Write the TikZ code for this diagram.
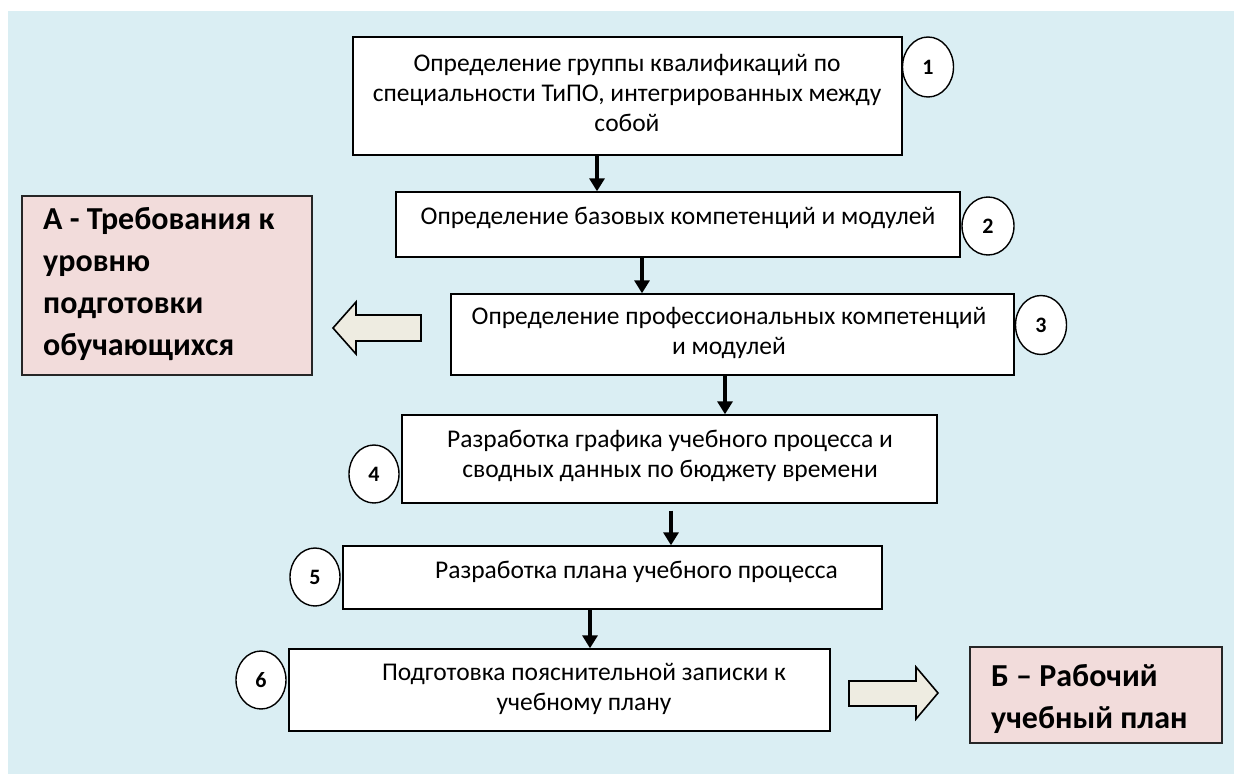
\documentclass[tikz,border=0pt]{standalone}
\usepackage{fontspec}
\setmainfont{Carlito}
\usetikzlibrary{shapes.geometric,arrows.meta,calc}
\definecolor{bgblue}{HTML}{DAEEF3}
\definecolor{pinkbox}{HTML}{F2DCDB}
\definecolor{tanfill}{HTML}{EEECE1}
\begin{document}
\begin{tikzpicture}[x=1pt,y=-1pt,
  stepbox/.style={draw=black,line width=1.4pt,fill=white,inner sep=0pt},
  resbox/.style={draw=black!85,line width=1.4pt,fill=pinkbox,inner sep=0pt},
  num/.style={ellipse,draw=black,line width=1.4pt,fill=white,inner sep=0pt,font=\fontsize{22}{22}\selectfont\bfseries},
  txt/.style={align=center,font=\fontsize{25.5}{30}\selectfont,inner sep=0pt},
  big/.style={align=left,font=\fontsize{32}{41.7}\selectfont\bfseries,inner sep=0pt},
  conn/.style={line width=4pt,-{Triangle[width=15pt,length=13pt]}},
  blockarrow/.style={draw=black,line width=1.6pt,fill=tanfill,line join=miter}]
\useasboundingbox (0,0) rectangle (1234,774);
\fill[bgblue] (8,11) rectangle (1234,774);

% step boxes
\node[stepbox,minimum width=549pt,minimum height=118pt] (b1) at (627.5,96) {};
\node[stepbox,minimum width=564pt,minimum height=65pt] (b2) at (678,224.5) {};
\node[stepbox,minimum width=563pt,minimum height=81pt] (b3) at (732.5,334.5) {};
\node[stepbox,minimum width=535pt,minimum height=88pt] (b4) at (669.5,459) {};
\node[stepbox,minimum width=539pt,minimum height=63pt] (b5) at (612.5,577.5) {};
\node[stepbox,minimum width=541pt,minimum height=82pt] (b6) at (559.5,690) {};

% result boxes
\node[resbox,minimum width=290pt,minimum height=179pt] (bA) at (167,285.5) {};
\node[resbox,minimum width=252pt,minimum height=96pt] (bB) at (1096,695) {};

% texts
\node[txt] (t1) at (627,93) {Определение группы квалификаций по\\специальности ТиПО, интегрированных между\\собой};
\node[txt] (t2) at (678,218) {Определение базовых компетенций и модулей};
\node[txt] (t3) at (729,333) {Определение профессиональных компетенций\\и модулей};
\node[txt] (t4) at (670,456) {Разработка графика учебного процесса и\\сводных данных по бюджету времени};
\node[txt] (t5) at (636.5,572) {Разработка плана учебного процесса};
\node[txt] (t6) at (584,689) {Подготовка пояснительной записки к\\учебному плану};
\node[big,anchor=west] (tA) at (43,284) {А - Требования к\\уровню\\подготовки\\обучающихся};
\node[big,anchor=west] (tB) at (991,699) {Б – Рабочий\\учебный план};

% numbers
\node[num,minimum width=51pt,minimum height=60pt] (c1) at (928,67) {1};
\node[num,minimum width=52pt,minimum height=58pt] (c2) at (988,226) {2};
\node[num,minimum width=51pt,minimum height=59pt] (c3) at (1041,325) {3};
\node[num,minimum width=50pt,minimum height=58pt] (c4) at (374,474) {4};
\node[num,minimum width=50pt,minimum height=58pt] (c5) at (315,577) {5};
\node[num,minimum width=50pt,minimum height=58pt] (c6) at (261,680) {6};

% connectors
\coordinate (x1) at (597,0);
\coordinate (x2) at (642,0);
\coordinate (x3) at (725,0);
\coordinate (x4) at (671,0);
\coordinate (x5) at (590,0);
\draw[conn] (b1.south -| x1) -- (b2.north -| x1);
\draw[conn] (b2.south -| x2) -- (b3.north -| x2);
\draw[conn] (b3.south -| x3) -- (b4.north -| x3);
\draw[conn] ([yshift=-7pt]b4.south -| x4) -- (b5.north -| x4);
\draw[conn] (b5.south -| x5) -- (b6.north -| x5);

% block arrows
\draw[blockarrow] (421,315) -- (356,315) -- (356,302) -- (333,328) -- (356,354) -- (356,341) -- (421,341) -- cycle;
\draw[blockarrow] (849,681) -- (916,681) -- (916,667) -- (938,693) -- (916,719) -- (916,706) -- (849,706) -- cycle;
\end{tikzpicture}
\end{document}
